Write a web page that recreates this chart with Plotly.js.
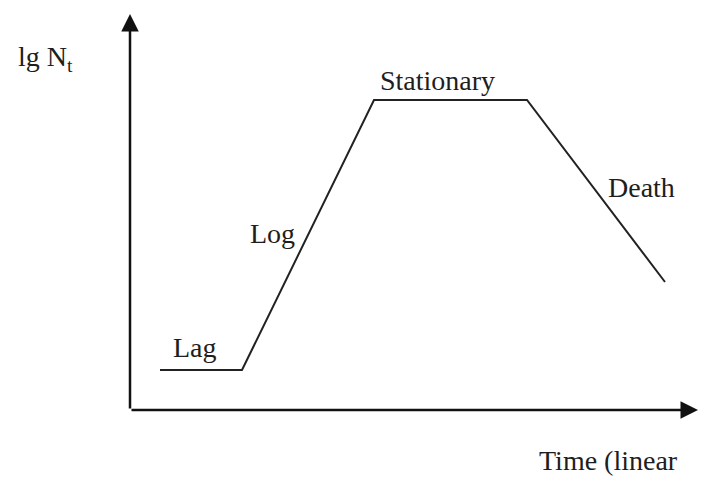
<!DOCTYPE html>
<html>
<head>
<meta charset="utf-8">
<script src="https://cdn.plot.ly/plotly-3.0.1.min.js"></script>
<style>html,body{margin:0;padding:0;background:#fff;}#chart{width:709px;height:478px;}</style>
</head>
<body>
<div id="chart"></div>
<script>
// Growth curve phases (time in arbitrary linear units, lg N in arbitrary units)
const phaseTimes = [1.5, 5.6, 12.2, 19.85, 26.75];
const lgN = [1.0, 1.0, 7.75, 7.75, 3.2];
const phaseLabels = ["Lag", "Log", "Stationary", "Death"];
const yAxisLabel = "lg N<sub>t</sub>";
const xAxisLabel = "Time (linear";
const axisTipX = 28.4;
const axisTipY = 9.9;

const font = {family: "Liberation Serif, Times New Roman, serif", size: 28, color: "#1e1e1e"};

const trace = {
  x: phaseTimes, y: lgN, type: "scatter", mode: "lines",
  line: {color: "#222", width: 2}, hoverinfo: "skip"
};

function arrow(x, y, ax, ay) {
  return {x: x, y: y, ax: ax, ay: ay, xref: "x", yref: "y", axref: "x", ayref: "y",
    showarrow: true, arrowhead: 2, arrowsize: 1.4, arrowwidth: 2.5, arrowcolor: "#111",
    standoff: 0, startstandoff: 0, text: ""};
}
function label(text, px, py) {
  return {text: text, xref: "paper", yref: "paper", x: px / 709, y: 1 - py / 478,
    xanchor: "center", yanchor: "middle", showarrow: false, font: font};
}

const layout = {
  width: 709, height: 478,
  margin: {l: 0, r: 0, t: 0, b: 0},
  paper_bgcolor: "#fff", plot_bgcolor: "#fff",
  showlegend: false,
  xaxis: {range: [-6.5, 28.95], visible: false, fixedrange: true},
  yaxis: {range: [-1.7, 10.25], visible: false, fixedrange: true},
  annotations: [
    arrow(0, axisTipY, 0, 0),
    arrow(axisTipX, 0, 0, 0),
    label(yAxisLabel, 45, 58),
    label(phaseLabels[0], 195, 347),
    label(phaseLabels[1], 272, 233),
    label(phaseLabels[2], 437, 80),
    label(phaseLabels[3], 641, 187),
    label(xAxisLabel, 608, 460)
  ]
};

Plotly.newPlot("chart", [trace], layout, {staticPlot: true, displayModeBar: false});
</script>
</body>
</html>
